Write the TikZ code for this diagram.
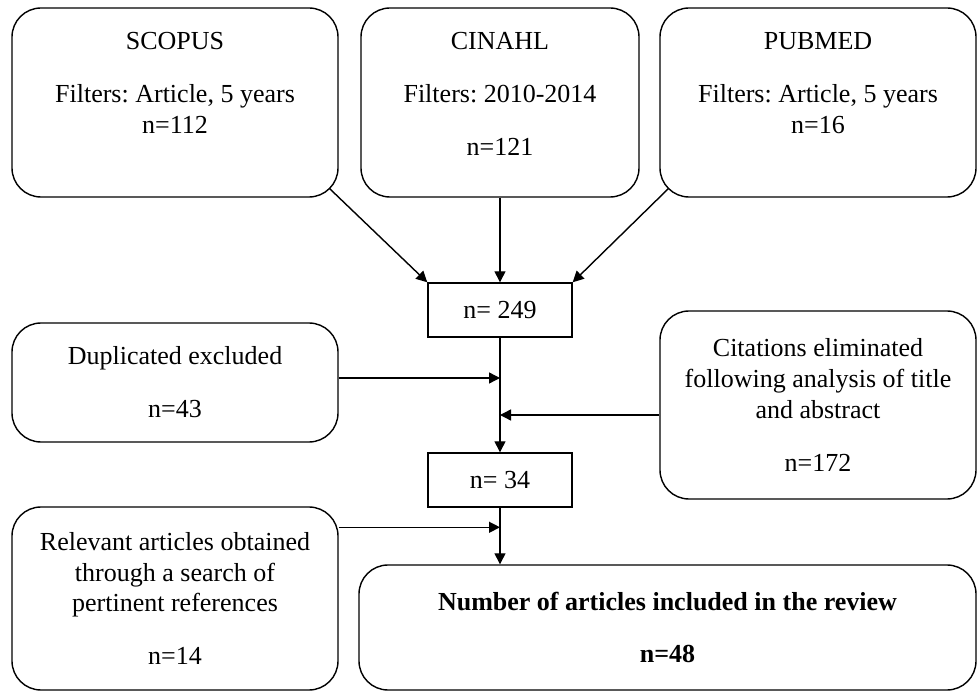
\documentclass[tikz,border=0pt]{standalone}
\usepackage{fontspec}
\setmainfont{Liberation Serif}
\usetikzlibrary{arrows.meta}
\frenchspacing
\tikzset{roundbox/.style={draw, line width=0.8pt, rounded corners=0.58cm, align=center},
         numbox/.style={draw, line width=0.8pt, minimum width=2.88cm, minimum height=1.08cm, inner sep=0pt},
         boxtext/.style={align=center, inner sep=0pt, anchor=north},
         flowarrow/.style={->, line width=0.8pt}}
\tikzset{>={Triangle[length=0.22cm,width=0.22cm]}}

\begin{document}
\begin{tikzpicture}[font=\fontsize{14.8}{17.6}\selectfont]
\useasboundingbox (0,0) rectangle (19.56,13.82);
\node[roundbox, minimum width=6.52cm, minimum height=3.78cm] (scopus) at (3.5,11.77) {};
\node[roundbox, minimum width=5.56cm, minimum height=3.78cm] (cinahl) at (10.0,11.77) {};
\node[roundbox, minimum width=6.32cm, minimum height=3.78cm] (pubmed) at (16.36,11.77) {};
\node[boxtext] (scopustxt) at ([yshift=-0.5cm]scopus.north) {SCOPUS\\[0.44cm]Filters: Article, 5 years\\n=112};
\node[boxtext] (cinahltxt) at ([yshift=-0.5cm]cinahl.north) {CINAHL\\[0.44cm]Filters: 2010-2014\\[0.44cm]n=121};
\node[boxtext] (pubmedtxt) at ([yshift=-0.5cm]pubmed.north) {PUBMED\\[0.44cm]Filters: Article, 5 years\\n=16};
\node[numbox] (n249) at (10.0,7.62) {n= 249};
\node[roundbox, minimum width=6.52cm, minimum height=2.38cm] (dup) at (3.5,6.17) {Duplicated excluded\\[0.44cm]n=43};
\node[roundbox, minimum width=6.32cm, minimum height=3.76cm] (cit) at (16.36,5.72) {Citations eliminated\\following analysis of title\\and abstract\\[0.44cm]n=172};
\node[numbox] (n34) at (10.0,4.22) {n= 34};
\node[roundbox, minimum width=6.52cm, minimum height=3.66cm] (rel) at (3.5,1.85) {Relevant articles obtained\\through a search of\\pertinent references\\[0.44cm]n=14};
\node[roundbox, minimum width=12.34cm, minimum height=2.5cm, font=\fontsize{14.8}{17.6}\selectfont\bfseries] (final) at (13.35,1.27) {Number of articles included in the review\\[0.44cm]n=48};
\draw[flowarrow] ([shift={(-0.18,0.18)}]scopus.south east) -- (n249.north west);
\draw[flowarrow] (cinahl.south) -- (n249.north);
\draw[flowarrow] ([shift={(0.18,0.18)}]pubmed.south west) -- (n249.north east);
\draw[flowarrow] (n249.south) -- (n34.north);
\draw[flowarrow] ([yshift=0.09cm]dup.east) coordinate (dupout) -- (dupout -| n249.south);
\draw[flowarrow] ([yshift=-0.2cm]cit.west) coordinate (citout) -- (citout -| n249.south);
\draw[flowarrow] (n34.south) -- (n34.south |- final.north);
\draw[flowarrow] ([yshift=-0.42cm]rel.north east) coordinate (relout) -- (relout -| n34.south);
\end{tikzpicture}
\end{document}
